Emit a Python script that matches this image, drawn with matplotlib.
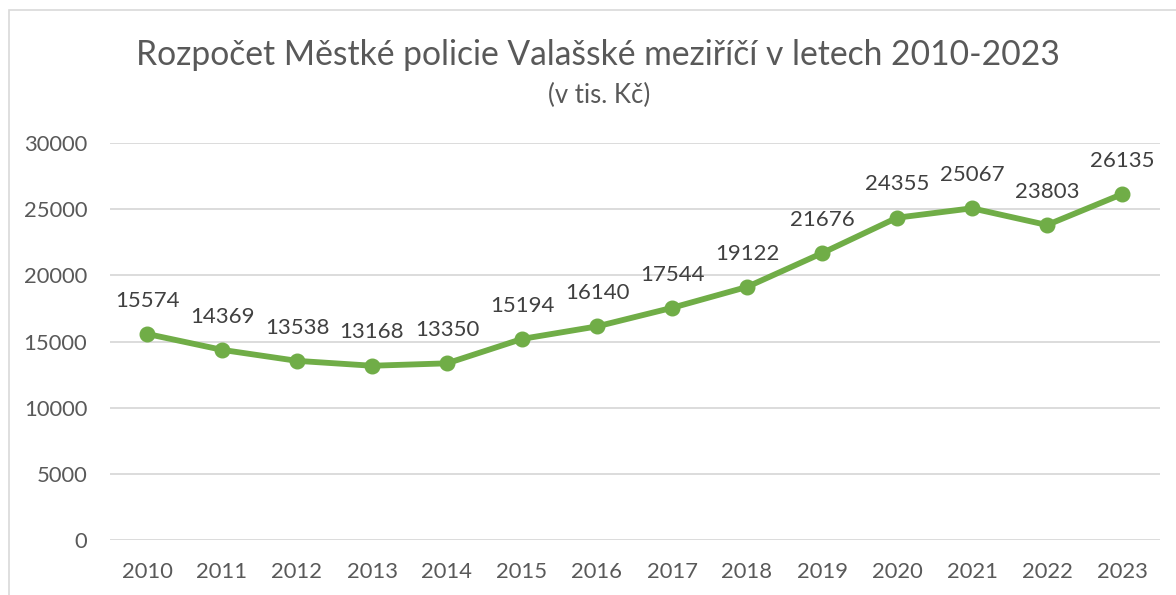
import matplotlib
matplotlib.use("Agg")
import matplotlib.pyplot as plt
from matplotlib.patches import Rectangle

years = [2010, 2011, 2012, 2013, 2014, 2015, 2016, 2017, 2018, 2019, 2020, 2021, 2022, 2023]
budget = [15574, 14369, 13538, 13168, 13350, 15194, 16140, 17544, 19122, 21676, 24355, 25067, 23803, 26135]
yticks = [0, 5000, 10000, 15000, 20000, 25000, 30000]

title = "Rozpočet Městké policie Valašské meziříčí v letech 2010-2023"
subtitle = "(v tis. Kč)"

plt.rcParams['font.family'] = ['Lato', 'DejaVu Sans']
W, H = 1176, 595
fig = plt.figure(figsize=(W / 100, H / 100), dpi=100)
fig.patch.set_facecolor('white')

# chart frame (visible left and top edges)
fig.patches.append(Rectangle((9 / W, -0.1), 1.2, 1.1 - 10 / H, transform=fig.transFigure,
                             fill=False, edgecolor='#d9d9d9', linewidth=1.2))

ax = fig.add_axes([109.5 / W, 1 - 540 / H, 1050 / W, (540 - 143) / H])
x = list(range(len(years)))
ax.plot(x, budget, color='#70ad47', linewidth=4.2, marker='o', markersize=10.5,
        solid_capstyle='round', zorder=3)
for xi, v in zip(x, budget):
    ax.annotate(str(v), (xi, v), xytext=(0, 24), textcoords='offset points',
                ha='center', va='center', fontsize=16, color='#404040')

ax.set_xlim(-0.5, len(years) - 0.5)
ax.set_ylim(0, 30000)
ax.set_yticks(yticks)
ax.set_yticklabels([str(t) for t in yticks])
ax.set_xticks(x)
ax.set_xticklabels([str(y) for y in years])
ax.grid(axis='y', color='#d9d9d9', linewidth=1.3)
ax.set_axisbelow(True)
for s in ax.spines.values():
    s.set_visible(False)
ax.tick_params(axis='both', length=0, labelsize=15.8, labelcolor='#595959')
ax.tick_params(axis='y', pad=16)
ax.tick_params(axis='x', pad=16)

fig.text(598 / W, 1 - 55 / H, title, ha='center', va='center', fontsize=24.2, color='#595959')
fig.text(599 / W, 1 - 95 / H, subtitle, ha='center', va='center', fontsize=18.5, color='#595959')

fig.savefig('out.png', dpi=100)
